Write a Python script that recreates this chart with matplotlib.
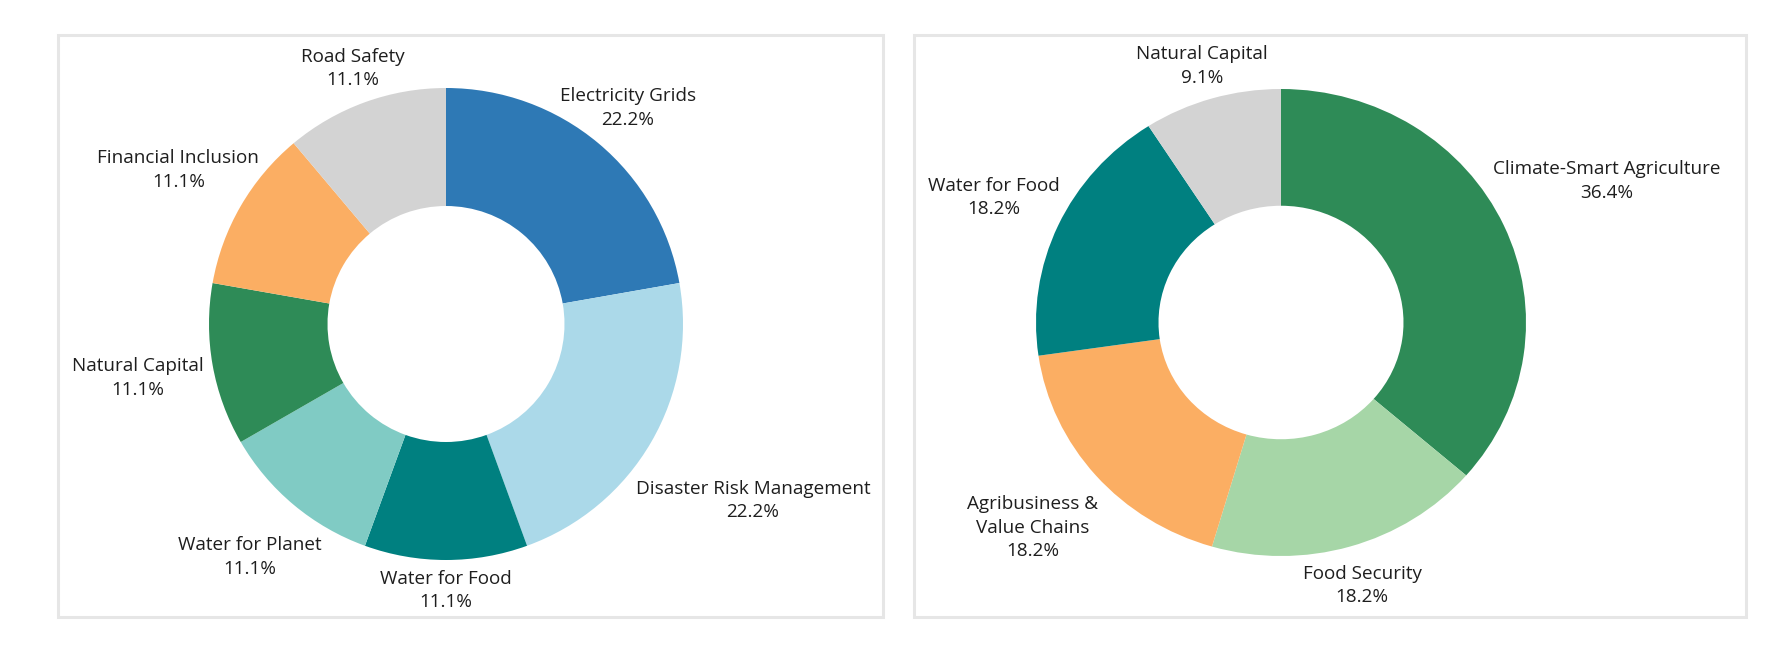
import numpy as np
import matplotlib
matplotlib.use('Agg')
import matplotlib.pyplot as plt
from matplotlib.patches import Rectangle

plt.rcParams['font.family'] = ['Open Sans', 'DejaVu Sans']

# 数据：左图
left_labels = ['Electricity Grids', 'Disaster Risk Management', 'Water for Food',
               'Water for Planet', 'Natural Capital', 'Financial Inclusion', 'Road Safety']
left_values = [22.2, 22.2, 11.1, 11.1, 11.1, 11.1, 11.1]
left_colors = ['#2e79b5', '#abd9e9', '#008080', '#80cbc4', '#2e8b57', '#fbae63', '#d3d3d3']
left_dist = [1.195, 1.496, 1.13, 1.289, 1.32, 1.304, 1.152]

# 数据：右图
right_labels = ['Climate-Smart Agriculture', 'Food Security', 'Agribusiness &\nValue Chains',
                'Water for Food', 'Natural Capital']
right_values = [36.4, 18.2, 18.2, 18.2, 9.1]
right_colors = ['#2e8b57', '#a6d6a7', '#fbae63', '#008080', '#d3d3d3']
right_dist = [1.46, 1.174, 1.342, 1.29, 1.146]

W, H = 1774, 655
fig = plt.figure(figsize=(W / 100, H / 100), dpi=100)

# 外框（像素坐标）
for x0, x1 in [(58, 883), (914, 1746)]:
    fig.patches.append(Rectangle((x0 / W, 1 - 617 / H), (x1 - x0) / W, (617 - 35) / H,
                                 transform=fig.transFigure, fill=False,
                                 edgecolor='#e6e6e6', linewidth=2.2))


def donut(cx, cy, rx, ry, labels, values, colors, dists):
    ax = fig.add_axes([(cx - rx) / W, 1 - (cy + ry) / H, 2 * rx / W, 2 * ry / H])
    wedges, _ = ax.pie(values, colors=colors, startangle=90, counterclock=False,
                       radius=1, wedgeprops=dict(width=0.5, linewidth=0))
    ax.set_aspect('auto')
    ax.set_xlim(-1, 1)
    ax.set_ylim(-1, 1)
    ax.axis('off')
    for w, lab, v, d in zip(wedges, labels, values, dists):
        ang = np.deg2rad((w.theta1 + w.theta2) / 2)
        ax.text(d * np.cos(ang), d * np.sin(ang), f'{lab}\n{v:.1f}%',
                ha='center', va='center', fontsize=13.6, color='#1e1e1e',
                linespacing=1.4, clip_on=False)


donut(446, 324, 237, 236, left_labels, left_values, left_colors, left_dist)
donut(1281, 322.5, 245, 233.5, right_labels, right_values, right_colors, right_dist)

fig.savefig('out.png', dpi=100, facecolor='white')
